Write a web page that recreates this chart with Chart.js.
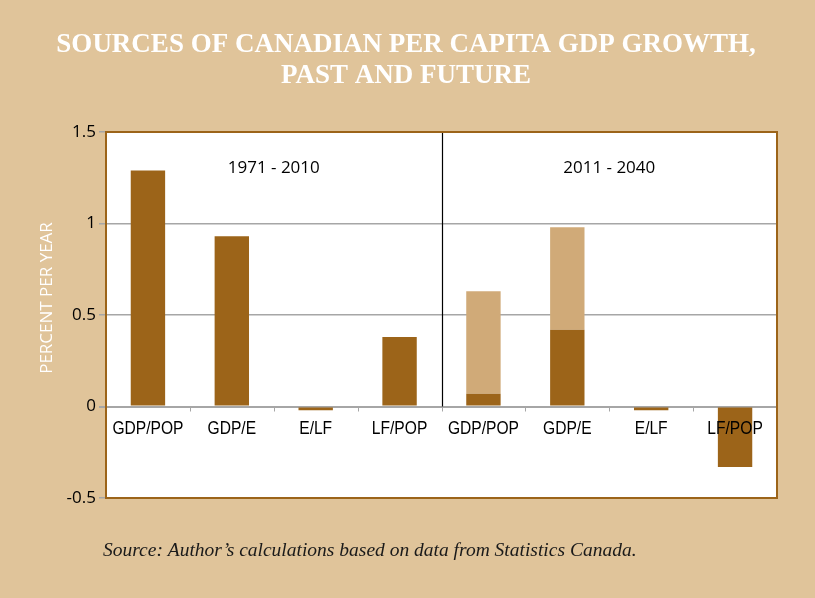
<!DOCTYPE html>
<html>
<head>
<meta charset="utf-8">
<script src="https://cdn.jsdelivr.net/npm/chart.js@4.4.1/dist/chart.umd.min.js"></script>
<style>
    html, body { margin: 0; padding: 0; background: #e0c49a; }
    #wrap { position: relative; width: 815px; height: 598px; }
</style>
</head>
<body>
<div id="wrap">
    <canvas id="gdpChart" width="815" height="598"></canvas>
</div>
<script>
// categories, two periods of four each
const categories = ['GDP/POP', 'GDP/E', 'E/LF', 'LF/POP', 'GDP/POP', 'GDP/E', 'E/LF', 'LF/POP'];
const periods = ['1971 - 2010', '2011 - 2040'];
// dark part of each bar
const baseValues = [1.29, 0.93, -0.02, 0.38, 0.07, 0.42, -0.02, -0.33];
// light part stacked on top (future only)
const extraValues = [null, null, null, null, 0.56, 0.56, null, null];
const yTicks = [-0.5, 0, 0.5, 1, 1.5];

const titleLines = ['SOURCES OF CANADIAN PER CAPITA GDP GROWTH,', 'PAST AND FUTURE'];
const yTitle = 'PERCENT PER YEAR';
const sourceText = 'Source: Author\u2019s calculations based on data from Statistics Canada.';

const DARK = '#9c6419';
const LIGHT = '#d0aa78';
const GRID = '#a6a6a6';

// white plot background, border, divider, labels and outside texts
const decorPlugin = {
    id: 'decor',
    beforeDraw(chart) {
        const { ctx, chartArea: a } = chart;
        ctx.save();
        ctx.fillStyle = '#ffffff';
        ctx.fillRect(a.left, a.top, a.right - a.left, a.bottom - a.top);
        ctx.restore();
    },
    afterDatasetsDraw(chart) {
        const { ctx, chartArea: a, scales } = chart;
        const x = scales.x, y = scales.y;
        const zeroY = y.getPixelForValue(0);
        const step = (a.right - a.left) / categories.length;
        ctx.save();

        // small tick marks under zero line
        ctx.strokeStyle = GRID;
        ctx.lineWidth = 1;
        for (let i = 1; i < categories.length; i++) {
            const px = Math.round(a.left + i * step) + 0.5;
            ctx.beginPath();
            ctx.moveTo(px, zeroY);
            ctx.lineTo(px, zeroY + 5);
            ctx.stroke();
        }

        // divider between periods
        const half = categories.length / 2;
        const divX = Math.round(a.left + half * step) + 0.5;
        ctx.strokeStyle = '#000000';
        ctx.lineWidth = 1.2;
        ctx.beginPath();
        ctx.moveTo(divX, a.top);
        ctx.lineTo(divX, zeroY);
        ctx.stroke();

        // plot border
        ctx.strokeStyle = DARK;
        ctx.lineWidth = 2;
        ctx.strokeRect(a.left, a.top, a.right - a.left, a.bottom - a.top);

        // category labels sitting below the zero line (narrowed sans)
        ctx.fillStyle = '#000000';
        ctx.font = '19px "Liberation Sans", Arial, sans-serif';
        ctx.textAlign = 'center';
        ctx.textBaseline = 'middle';
        categories.forEach((c, i) => {
            ctx.save();
            ctx.translate(x.getPixelForValue(i), zeroY + 22);
            ctx.scale(0.82, 1);
            ctx.fillText(c, 0, 0);
            ctx.restore();
        });

        // period labels
        ctx.font = '17px "Open Sans", sans-serif';
        const py = y.getPixelForValue(1.305);
        periods.forEach((p, i) => {
            ctx.fillText(p, a.left + (i + 0.5) * half * step, py);
        });
        ctx.restore();
    },
    afterDraw(chart) {
        const { ctx } = chart;
        ctx.save();
        // title
        ctx.fillStyle = '#ffffff';
        ctx.textAlign = 'center';
        ctx.textBaseline = 'middle';
        ctx.font = 'bold 27px "Liberation Serif", "Times New Roman", serif';
        titleLines.forEach((t, i) => ctx.fillText(t, 406, 45 + i * 31));

        // y axis title
        ctx.font = '17px "Open Sans", sans-serif';
        ctx.translate(47, 298);
        ctx.rotate(-Math.PI / 2);
        ctx.fillText(yTitle, 0, 0);
        ctx.restore();

        // source note
        ctx.save();
        ctx.fillStyle = '#1a1a1a';
        ctx.textAlign = 'left';
        ctx.textBaseline = 'middle';
        ctx.font = 'italic 19.5px "Liberation Serif", "Times New Roman", serif';
        ctx.fillText(sourceText, 103, 551);
        ctx.restore();
    }
};

const ctx = document.getElementById('gdpChart').getContext('2d');
new Chart(ctx, {
    type: 'bar',
    data: {
        labels: categories,
        datasets: [
            {
                label: 'base',
                data: baseValues,
                backgroundColor: DARK,
                barPercentage: 0.41,
                categoryPercentage: 1
            },
            {
                label: 'extra',
                data: extraValues,
                backgroundColor: LIGHT,
                barPercentage: 0.41,
                categoryPercentage: 1
            }
        ]
    },
    options: {
        responsive: false,
        animation: false,
        layout: {
            padding: { top: 132, bottom: 100, left: 46, right: 38 }
        },
        plugins: {
            legend: { display: false },
            tooltip: { enabled: false },
            title: { display: false }
        },
        scales: {
            x: {
                stacked: true,
                display: false
            },
            y: {
                stacked: true,
                min: -0.5,
                max: 1.5,
                afterBuildTicks(scale) {
                    scale.ticks = yTicks.map(v => ({ value: v }));
                },
                afterFit(scale) {
                    scale.width = 60;
                },
                grid: {
                    color: GRID,
                    lineWidth: ctx => (ctx.tick && ctx.tick.value === 0 ? 2 : 1.5),
                    tickLength: 7
                },
                border: { display: false },
                ticks: {
                    color: '#000000',
                    padding: 3,
                    font: { family: '"Open Sans", sans-serif', size: 17 },
                    callback: v => String(v)
                }
            }
        }
    },
    plugins: [decorPlugin]
});
</script>
</body>
</html>
